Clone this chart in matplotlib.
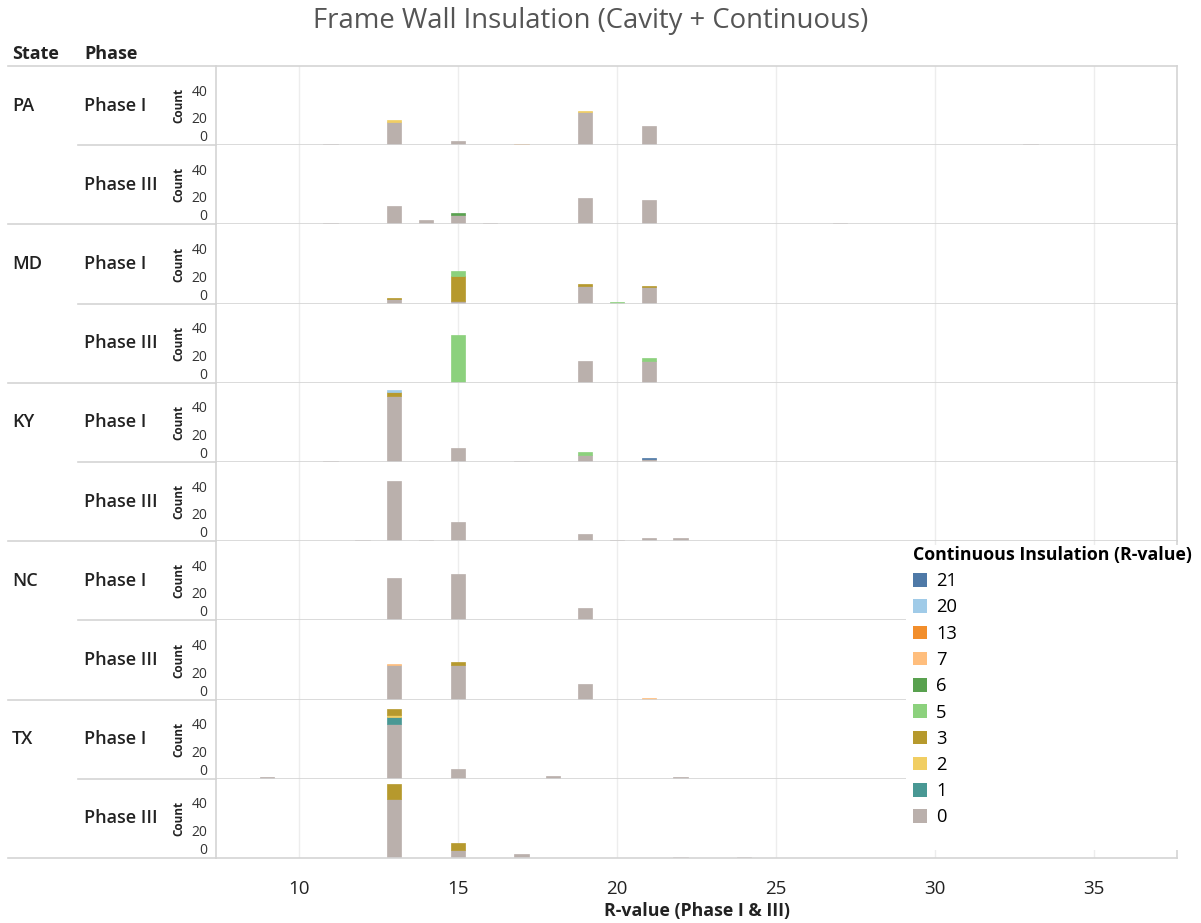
import pandas as pd
import matplotlib
matplotlib.use("Agg")
import matplotlib.pyplot as plt
from matplotlib.lines import Line2D
from matplotlib.patches import Patch, Rectangle

plt.rcParams['font.family'] = ['Open Sans', 'DejaVu Sans']

W, H = 1201, 923

def fx(px):
    return px / W

def fy(py):
    return 1 - py / H

# continuous insulation levels (stack order bottom -> top) and colours
ci_levels = [0, 1, 2, 3, 5, 6, 7, 13, 20, 21]
ci_colors = ["#bab0ac", "#499894", "#f1ce63", "#b6992d", "#8cd17d",
             "#59a14f", "#ffbe7d", "#f28e2b", "#a0cbe8", "#4e79a7"]

states = ["PA", "MD", "KY", "NC", "TX"]
phases = ["Phase I", "Phase III"]

# (cavity R-value, continuous R-value, count)
pa_1 = [(11, 0, 1), (13, 0, 17), (13, 2, 1), (15, 0, 3), (17, 13, 1),
        (19, 0, 24), (19, 2, 1), (21, 0, 14), (33, 0, 1)]
pa_3 = [(11, 0, 1), (13, 0, 13), (14, 0, 3), (15, 0, 7), (15, 6, 1),
        (16, 0, 1), (19, 0, 19), (21, 0, 18), (27, 0, 1)]
md_1 = [(13, 0, 3), (13, 3, 1), (15, 0, 2), (15, 3, 18), (15, 5, 4),
        (19, 0, 13), (19, 3, 1), (20, 5, 1), (21, 0, 12), (21, 3, 1)]
md_3 = [(15, 5, 35), (19, 0, 16), (21, 0, 16), (21, 5, 2)]
ky_1 = [(11, 0, 1), (13, 0, 48), (13, 3, 3), (13, 20, 1), (15, 0, 10),
        (17, 0, 1), (19, 0, 5), (19, 5, 2), (21, 0, 2), (21, 21, 1)]
ky_3 = [(12, 0, 1), (13, 0, 44), (14, 0, 1), (15, 0, 14), (19, 0, 5),
        (20, 0, 1), (21, 0, 2), (22, 0, 2)]
nc_1 = [(13, 0, 31), (15, 0, 34), (19, 0, 9)]
nc_3 = [(13, 0, 25), (13, 7, 1), (15, 0, 25), (15, 3, 2), (19, 0, 11),
        (21, 7, 1)]
tx_1 = [(9, 0, 1), (13, 0, 40), (13, 1, 5), (13, 2, 1), (13, 3, 5),
        (15, 0, 7), (18, 0, 2), (22, 0, 1)]
tx_3 = [(13, 0, 43), (13, 3, 11), (15, 0, 6), (15, 3, 5), (17, 0, 3),
        (22, 0, 1), (24, 0, 1)]

panels = [pa_1, pa_3, md_1, md_3, ky_1, ky_3, nc_1, nc_3, tx_1, tx_3]

line_col = "#d4d4d4"
txt_col = "#222222"
top_px, bot_px, left_px, right_px = 66, 858, 216, 1177
row_h = (bot_px - top_px) / len(panels)

fig, axes = plt.subplots(len(panels), 1, figsize=(W / 100, H / 100), dpi=100, sharex=True)
fig.subplots_adjust(left=fx(left_px), right=fx(right_px), top=fy(top_px),
                    bottom=fy(bot_px), hspace=0)

for i, (ax, recs) in enumerate(zip(axes, panels)):
    df = pd.DataFrame(recs, columns=["r", "ci", "n"])
    tab = df.pivot_table(index="r", columns="ci", values="n", aggfunc="sum", fill_value=0)
    bottom = pd.Series(0, index=tab.index)
    for lvl, col in zip(ci_levels, ci_colors):
        if lvl not in tab.columns:
            continue
        seg = tab[lvl]
        m = seg > 0
        ax.bar(tab.index[m], seg[m], bottom=bottom[m], width=0.45, color=col,
               edgecolor=col, linewidth=0.5, zorder=2)
        bottom = bottom + seg

    ax.set_xlim(7.4, 37.6)
    ax.set_ylim(0, 57.5)
    ax.set_xticks(range(10, 36, 5))
    ax.set_yticks([0, 20, 40])
    ax.set_yticklabels(["0", "20", "40"])
    ax.yaxis.get_major_ticks()[0].label1.set_verticalalignment("bottom")
    ax.tick_params(axis="y", length=0, pad=6, labelsize=10, labelcolor="#333333")
    ax.tick_params(axis="x", length=0, pad=16, labelsize=13.5, labelcolor=txt_col)
    ax.grid(axis="x", color="#ededed", lw=1)
    ax.set_axisbelow(True)
    ax.spines["top"].set_visible(False)
    for s in ["left", "right", "bottom"]:
        ax.spines[s].set_color(line_col)
        ax.spines[s].set_linewidth(1.2)
    ax.set_ylabel("Count", fontsize=8.5, fontweight="bold", color=txt_col)
    ax.yaxis.set_label_coords(-0.032, 0.5)

    # row labels
    yc = top_px + row_h * (i + 0.5)
    if i % 2 == 0:
        fig.text(fx(12), fy(yc), states[i // 2], fontsize=13, fontweight="semibold",
                 va="center", ha="left", color=txt_col)
    fig.text(fx(84), fy(yc), phases[i % 2], fontsize=13, fontweight="semibold",
             va="center", ha="left", color=txt_col)

    # separator extending into the label area
    yb = top_px + row_h * (i + 1)
    x0 = 8 if i % 2 == 1 else 78
    fig.add_artist(Line2D([fx(x0), fx(left_px)], [fy(yb), fy(yb)],
                          transform=fig.transFigure, color=line_col, lw=1.2))

# header line
fig.add_artist(Line2D([fx(8), fx(right_px)], [fy(top_px), fy(top_px)],
                      transform=fig.transFigure, color=line_col, lw=1.2))

fig.text(fx(591), fy(21), "Frame Wall Insulation (Cavity + Continuous)",
         ha="center", va="center", fontsize=19.8, color="#555555")
fig.text(fx(12), fy(54), "State", fontsize=13, fontweight="bold", va="center", color=txt_col)
fig.text(fx(84), fy(54), "Phase", fontsize=13, fontweight="bold", va="center", color=txt_col)
fig.text(fx((left_px + right_px) / 2), fy(911), "R-value (Phase I & III)",
         ha="center", va="center", fontsize=12.8, fontweight="bold", color=txt_col)

# white backdrop for legend
fig.add_artist(Rectangle((fx(906), fy(850)), fx(W) - fx(906), fy(545) - fy(850),
                         transform=fig.transFigure, facecolor="white",
                         edgecolor="none", zorder=1))

handles = [Patch(facecolor=c, edgecolor="none") for c in ci_colors[::-1]]
labels = [str(l) for l in ci_levels[::-1]]
fig.legend(handles, labels, loc="upper left", bbox_to_anchor=(fx(913), fy(546)),
           frameon=False, borderpad=0, borderaxespad=0, fontsize=13.2,
           title="Continuous Insulation (R-value)",
           title_fontproperties={"weight": "bold", "size": 12.8},
           alignment="left", handlelength=0.75, handleheight=0.75,
           handletextpad=0.5, labelspacing=0.45)

fig.savefig("out.png", dpi=100)
